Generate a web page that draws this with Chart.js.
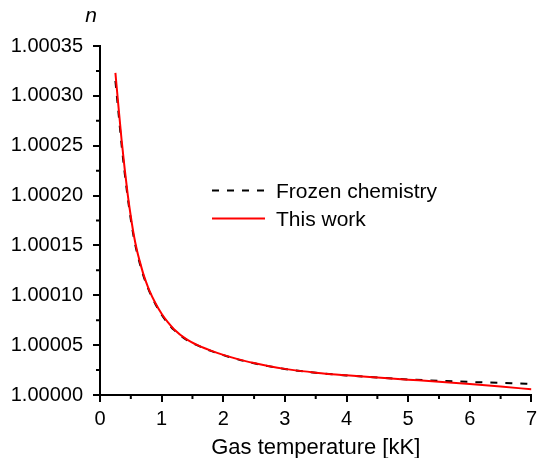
<!DOCTYPE html>
<html>
<head>
<meta charset="utf-8">
<script src="https://cdn.jsdelivr.net/npm/chart.js@4.4.0/dist/chart.umd.min.js"></script>
<style>
  html, body { margin: 0; padding: 0; background: #fff; }
  #chart { display: block; }
</style>
</head>
<body>
<canvas id="chart" width="542" height="458"></canvas>
<script>
  // gas temperature [kK]
  const temps = [0.25, 0.3, 0.35, 0.4, 0.45, 0.5, 0.55, 0.6, 0.65, 0.7, 0.75, 0.8, 0.9, 1.0, 1.1, 1.2, 1.4, 1.6, 1.8, 2.0, 2.25, 2.5, 2.75, 3.0, 3.5, 4.0, 4.5, 5.0, 5.5, 6.0, 6.5, 7.0];

  // refractive index n
  const frozenN = [1.000315, 1.000283, 1.000251, 1.000223, 1.000198, 1.000176, 1.0001575, 1.000143, 1.000131, 1.0001205, 1.0001115, 1.000104, 1.000091, 1.0000805, 1.0000722, 1.0000653, 1.0000555, 1.0000492, 1.0000442, 1.0000400, 1.0000355, 1.0000318, 1.0000287, 1.0000261, 1.0000223, 1.0000196, 1.0000175, 1.0000156, 1.0000143, 1.0000131, 1.0000121, 1.0000112];
  const thisWorkN = [1.000323, 1.000289, 1.000256, 1.000227, 1.000201, 1.000179, 1.000160, 1.000145, 1.000133, 1.000122, 1.000113, 1.000105, 1.000092, 1.0000815, 1.0000730, 1.0000660, 1.0000560, 1.0000495, 1.0000445, 1.0000402, 1.0000357, 1.0000320, 1.0000288, 1.0000262, 1.0000224, 1.0000197, 1.0000175, 1.0000154, 1.0000133, 1.0000110, 1.0000085, 1.0000057];

  const xTicks = [0, 1, 2, 3, 4, 5, 6, 7];
  const yTicks = [1.00000, 1.00005, 1.00010, 1.00015, 1.00020, 1.00025, 1.00030, 1.00035];

  const FONT = "'Liberation Sans', Arial, sans-serif";

  function pairs(xs, ys) {
    return xs.map((x, i) => ({ x: x, y: ys[i] }));
  }

  // minor ticks halfway between the labelled ones
  const minorTicks = {
    id: 'minorTicks',
    afterDraw(chart) {
      const ctx = chart.ctx;
      const xs = chart.scales.x, ys = chart.scales.y;
      const area = chart.chartArea;
      ctx.save();
      ctx.strokeStyle = '#000';
      ctx.lineWidth = 2;
      ctx.beginPath();
      for (let i = 0; i < xTicks.length - 1; i++) {
        const px = xs.getPixelForValue((xTicks[i] + xTicks[i + 1]) / 2);
        ctx.moveTo(px, area.bottom);
        ctx.lineTo(px, area.bottom + 4);
      }
      for (let i = 0; i < yTicks.length - 1; i++) {
        const py = ys.getPixelForValue((yTicks[i] + yTicks[i + 1]) / 2);
        ctx.moveTo(area.left, py);
        ctx.lineTo(area.left - 4, py);
      }
      ctx.stroke();

      // axis symbol above the y axis
      ctx.fillStyle = '#000';
      ctx.font = 'italic 21px ' + FONT;
      ctx.textAlign = 'center';
      ctx.textBaseline = 'alphabetic';
      ctx.fillText('n', area.left - 9, 22);
      ctx.restore();
    }
  };

  // legend sitting inside the plot
  const innerLegend = {
    id: 'innerLegend',
    afterDraw(chart) {
      const ctx = chart.ctx;
      ctx.save();
      ctx.font = '21px ' + FONT;
      ctx.textAlign = 'left';
      ctx.textBaseline = 'alphabetic';
      chart.data.datasets.forEach((ds, i) => {
        const base = 198 + i * 28;
        const ly = base - 7.5;
        ctx.strokeStyle = ds.borderColor;
        ctx.lineWidth = 2;
        ctx.setLineDash(ds.borderDash || []);
        ctx.beginPath();
        ctx.moveTo(212, ly);
        ctx.lineTo(265, ly);
        ctx.stroke();
        ctx.setLineDash([]);
        ctx.fillStyle = '#000';
        ctx.fillText(ds.label, 276, base);
      });
      ctx.restore();
    }
  };

  new Chart(document.getElementById('chart'), {
    type: 'line',
    data: {
      datasets: [
        {
          label: 'Frozen chemistry',
          data: pairs(temps, frozenN),
          borderColor: '#000000',
          borderDash: [7, 8],
          borderWidth: 2,
          pointRadius: 0,
          cubicInterpolationMode: 'monotone',
          order: 1
        },
        {
          label: 'This work',
          data: pairs(temps, thisWorkN),
          borderColor: '#ff0000',
          borderWidth: 2,
          pointRadius: 0,
          cubicInterpolationMode: 'monotone',
          order: 0
        }
      ]
    },
    options: {
      responsive: false,
      animation: false,
      layout: { padding: { top: 46, right: 10, left: 0, bottom: 0 } },
      plugins: {
        legend: { display: false },
        tooltip: { enabled: false }
      },
      scales: {
        x: {
          type: 'linear',
          min: 0,
          max: 7,
          afterFit(scale) { scale.height = 63; },
          afterBuildTicks(scale) { scale.ticks = xTicks.map(v => ({ value: v })); },
          border: { display: true, color: '#000', width: 2 },
          grid: { drawOnChartArea: false, drawTicks: true, tickLength: 7, color: '#000', lineWidth: 2 },
          ticks: {
            color: '#000',
            padding: 5,
            font: { family: FONT, size: 20 },
            callback: v => String(v)
          },
          title: {
            display: true,
            text: 'Gas temperature [kK]',
            color: '#000',
            padding: { top: -1, bottom: -1 },
            font: { family: FONT, size: 22, lineHeight: 1 }
          }
        },
        y: {
          type: 'linear',
          min: 1.0,
          max: 1.00035,
          afterFit(scale) { scale.width = 100; },
          afterBuildTicks(scale) { scale.ticks = yTicks.map(v => ({ value: v })); },
          border: { display: true, color: '#000', width: 2 },
          grid: { drawOnChartArea: false, drawTicks: true, tickLength: 7, color: '#000', lineWidth: 2 },
          ticks: {
            color: '#000',
            padding: 10,
            font: { family: FONT, size: 20 },
            callback: v => Number(v).toFixed(5)
          }
        }
      }
    },
    plugins: [minorTicks, innerLegend]
  });
</script>
</body>
</html>
